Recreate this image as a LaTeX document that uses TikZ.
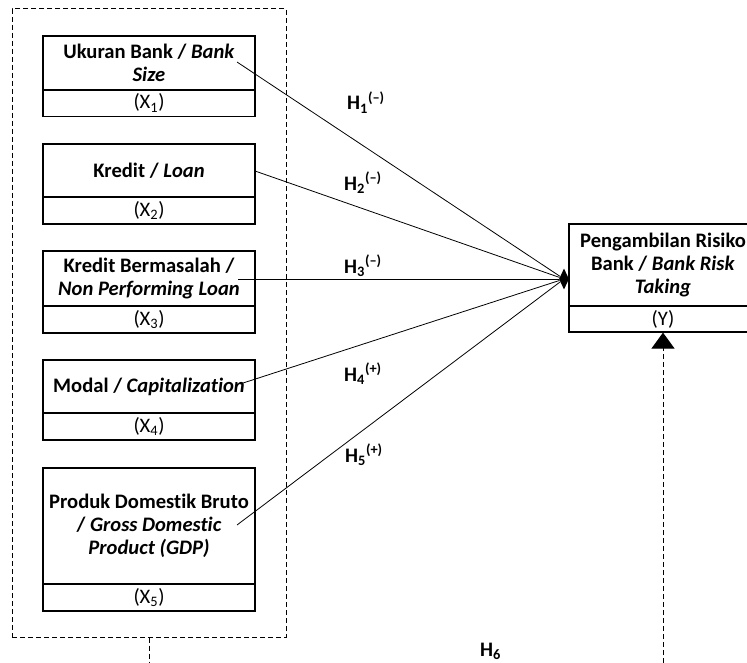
\documentclass[tikz,border=0pt]{standalone}
\usepackage{fontspec}
\setmainfont{Carlito}[Ligatures=NoCommon]
\usetikzlibrary{shapes.geometric,arrows.meta}

\tikzset{
  varbox/.style={draw, line width=1.2pt, minimum width=212pt, inner sep=0pt, align=center, font=\fontsize{20.6}{23}\selectfont\bfseries},
  idbox/.style={draw, line width=1.2pt, minimum width=212pt, minimum height=27pt, inner sep=0pt, font=\fontsize{20.6}{23}\selectfont},
  groupbox/.style={draw, line width=1pt, dash pattern=on 5pt off 3pt, inner sep=0pt},
  hyp/.style={anchor=base west, inner sep=0pt, font=\fontsize{20.6}{23}\selectfont\bfseries},
  link/.style={line width=0.8pt}
}

\begin{document}
\begin{tikzpicture}[x=1pt,y=-1pt]
\useasboundingbox (0,0) rectangle (747,663);
\clip (0,0) rectangle (747,663);

% independent variables
\node[groupbox, minimum width=274pt, minimum height=628pt] (grp) at (149,323) {};
\node[varbox, minimum height=54pt] (x1) at (149,63) {Ukuran Bank / \textit{Bank}\\\textit{Size}};
\node[idbox] (x1id) at (149,103) {(X\textsubscript{1})};
\node[varbox, minimum height=53pt] (x2) at (149,170.5) {Kredit / \textit{Loan}};
\node[idbox] (x2id) at (149,210.5) {(X\textsubscript{2})};
\node[varbox, minimum height=55pt] (x3) at (149,278.5) {Kredit Bermasalah /\\\textit{Non Performing Loan}};
\node[idbox] (x3id) at (149,319.5) {(X\textsubscript{3})};
\node[varbox, minimum height=53pt] (x4) at (149,386.5) {Modal / \textit{Capitalization}};
\node[idbox] (x4id) at (149,426.5) {(X\textsubscript{4})};
\node[varbox, minimum height=116pt] (x5) at (149,526) {Produk Domestik Bruto\\/ \textit{Gross Domestic}\\\textit{Product (GDP)}};
\node[idbox] (x5id) at (149,597.5) {(X\textsubscript{5})};

% dependent variable
\node[varbox, minimum width=188pt, minimum height=82pt] (y) at (663,265) {Pengambilan Risiko\\Bank / \textit{Bank Risk}\\\textit{Taking}};
\node[idbox, minimum width=188pt, minimum height=26pt] (yid) at (663,319) {(Y)};

% paths
\coordinate (s1) at (237,62);
\coordinate (s2) at (255,171);
\coordinate (s3) at (238,279);
\coordinate (s4) at (240,384);
\coordinate (s5) at (237,525);
\node[diamond, fill, aspect=0.5, minimum width=10pt, minimum height=21pt, inner sep=0pt] (hub) at (564,279) {};
\draw[link] (s1) -- (hub);
\draw[link] (s2) -- (hub);
\draw[link] (s3) -- (hub);
\draw[link] (s4) -- (hub);
\draw[link] (s5) -- (hub);

\coordinate (grpend) at (149,663);
\coordinate (yend) at (663,663);
\draw[line width=1pt, dash pattern=on 5pt off 3pt] (grp.south) -- (grpend);
\draw[line width=1pt, dash pattern=on 5pt off 3pt, -{Triangle[length=16pt,width=23pt]}] (yend) -- (yid.south);

\node[hyp] (h1) at (347,110) {H\textsubscript{1}\textsuperscript{(--)}};
\node[hyp] (h2) at (344,190.5) {H\textsubscript{2}\textsuperscript{(--)}};
\node[hyp] (h3) at (344,273) {H\textsubscript{3}\textsuperscript{(--)}};
\node[hyp] (h4) at (344,381) {H\textsubscript{4}\textsuperscript{(+)}};
\node[hyp] (h5) at (345,462) {H\textsubscript{5}\textsuperscript{(+)}};
\node[hyp] (h6) at (480,656) {H\textsubscript{6}};
\end{tikzpicture}
\end{document}
